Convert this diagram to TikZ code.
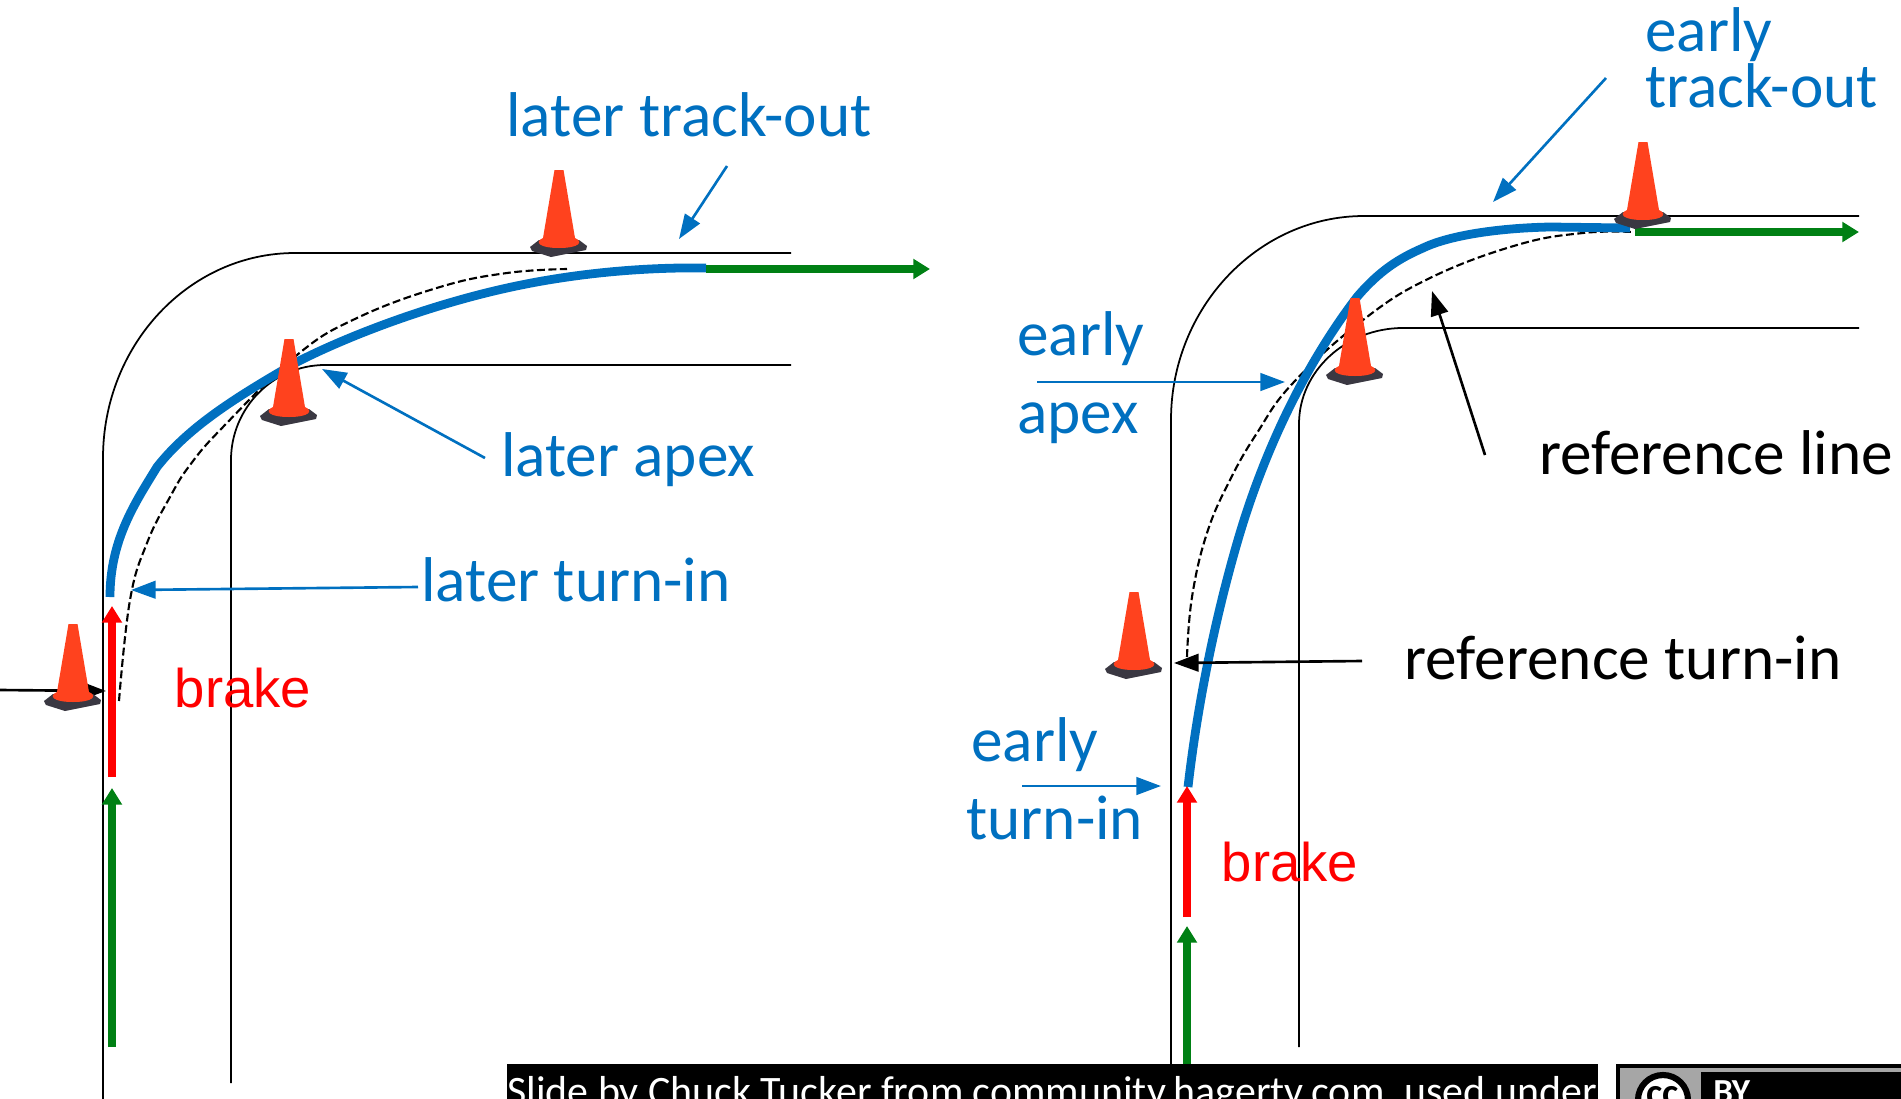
\documentclass[tikz,border=0pt]{standalone}
\usepackage{fontspec}
\setmainfont{Carlito}
\newfontfamily\brakefont{Liberation Sans}
\usetikzlibrary{arrows.meta}
\definecolor{lineblue}{RGB}{0,112,192}
\definecolor{gogreen}{RGB}{0,128,20}
\definecolor{coneorange}{RGB}{255,66,30}
\definecolor{conebase}{RGB}{58,56,66}
\tikzset{
  road/.style={line width=1pt},
  refline/.style={line width=1.2pt,dash pattern=on 4.5pt off 2pt},
  racing/.style={lineblue,line width=5pt},
  pedal/.style={line width=4.3pt,-{Triangle[length=9.5pt,width=11pt]}},
  pointer/.style={line width=1.5pt,-{Triangle[length=14pt,width=10pt]}},
  label/.style={font=\fontsize{36}{40}\selectfont,lineblue,inner sep=0pt},
  blacklabel/.style={label,text=black},
  brakelabel/.style={font=\fontsize{31}{34}\selectfont\brakefont,red,inner sep=0pt}
}
\begin{document}
\begin{tikzpicture}[x=0.02cm,y=-0.02cm]
    \useasboundingbox (0,0) rectangle (1901,1099);
    \clip (0,0) rectangle (1901,1099);
    % track edges
    \draw[road] (103,1099) -- (103,458) .. controls (103,345) and (189,253) .. (295,253) -- (791,253);
    \draw[road] (231,1083) -- (231,460) .. controls (231,408) and (273,365) .. (325,365) -- (791,365);
    \draw[road] (1171,1064) -- (1171,420) .. controls (1171,308) and (1258,216) .. (1364,216) -- (1859,216);
    \draw[road] (1299,1047) -- (1299,424) .. controls (1299,371) and (1346,328) .. (1403,328) -- (1859,328);
    % reference lines
    \draw[refline] plot[smooth,tension=0.7] coordinates {(119,701) (130,600) (147,543) (170,497) (190,465) (223,427) (297,355) (357,318) (440,287) (507,273) (567,269)};
    \draw[refline] plot[smooth,tension=0.7] coordinates {(1187,657) (1192,597) (1207,533) (1230,480) (1257,433) (1293,383) (1363,320) (1430,278) (1517,245) (1583,233) (1633,232)};
    % racing lines
    \draw[racing] (110,597) .. controls (110,540) and (135,503) .. (157,467) .. controls (190,425) and (240,395) .. (297,362) .. controls (350,335) and (430,305) .. (507,288) .. controls (570,274) and (640,267) .. (706,268);
    \draw[racing] (1188,787) .. controls (1198,700) and (1217,610) .. (1240,533) .. controls (1265,450) and (1305,365) .. (1357,297) .. controls (1380,270) and (1400,258) .. (1423,248) .. controls (1450,235) and (1500,228) .. (1550,227) -- (1630,228);
    % brake and throttle
    \coordinate (brakeA) at (112,777);
    \coordinate (brakeAtip) at (112,606);
    \coordinate (brakeB) at (1187,917);
    \coordinate (brakeBtip) at (1187,786);
    \draw[pedal,red] (brakeA) -- (brakeAtip);
    \draw[pedal,red] (brakeB) -- (brakeBtip);
    \foreach \a/\b/\c/\d in {112/1047/112/788,1187/1064/1187/926,706/269/930/269,1635/232/1859/232} {
      \coordinate (gostart) at (\a,\b);
      \coordinate (goend) at (\c,\d);
      \draw[pedal,gogreen] (gostart) -- (goend);
    }
    % pointer under the first cone
    \coordinate (refA) at (0,690);
    \coordinate (refAtip) at (106,691);
    \draw[pointer] (refA) -- (refAtip);
    % cones
    \foreach \x/\y in {73/624,289/339,559/170,1134/592,1355/298,1643/142} {
      \begin{scope}[shift={(\x,\y)}]
        \fill[conebase] (-29,77) -- (-20,70) -- (20,70) -- (28,76) -- (27,80) -- (-8,87) -- (-27,81) -- cycle;
        \fill[coneorange] (-4.5,0) -- (4.5,0) -- (16,68) .. controls (25,72) and (20,78) .. (0,78) .. controls (-20,78) and (-25,72) .. (-16,68) -- cycle;
      \end{scope}
    }
    % labels
    \node[label] (latetrack) at (689,115) {later track-out};
    \node[label] (lateapex) at (628,460) {later apex};
    \node[label] (lateturn) at (576,580) {later turn-in};
    \node[brakelabel] (brakeleft) at (243,688) {brake};
    \node[brakelabel] (brakeright) at (1290,862) {brake};
    \node[label,anchor=west,align=left,font=\fontsize{36}{29}\selectfont] (earlytrack) at (1645,58) {early\\track-out};
    \node[label,anchor=west] (earlyapexA) at (1017,339) {early};
    \node[label,anchor=west] (earlyapexB) at (1017,423) {apex};
    \node[label,anchor=west] (earlyturnA) at (971,745) {early};
    \node[label,anchor=west] (earlyturnB) at (966,818) {turn-in};
    \node[blacklabel] (refline) at (1716,453) {reference line};
    \node[blacklabel] (refturn) at (1623,658) {reference turn-in};
    % pointers
    \foreach \a/\b/\c/\d in {727/166/679/239,485/458/322/369,418/587/131/590,1606/78/1493/202,1037/382/1285/382,1022/786/1161/786} {
      \coordinate (ptrstart) at (\a,\b);
      \coordinate (ptrend) at (\c,\d);
      \draw[pointer,lineblue] (ptrstart) -- (ptrend);
    }
    \foreach \a/\b/\c/\d in {1485/455/1432/291,1362/661/1174/663} {
      \coordinate (ptrstart) at (\a,\b);
      \coordinate (ptrend) at (\c,\d);
      \draw[pointer] (ptrstart) -- (ptrend);
    }
    % credit strip
    \fill[black] (507,1064) rectangle (1598,1099);
    \node[anchor=base west,white,inner sep=0pt,font=\fontsize{23.85}{26}\selectfont] (credit) at (507,1105) {Slide by Chuck Tucker from community.hagerty.com, used under};
    \fill[black] (1616,1064) rectangle (1901,1099);
    \fill[black!35] (1620,1068) rectangle (1901,1072);
    \fill[black!35] (1620,1072) rectangle (1701,1099);
    \node[circle,draw=black,line width=3.5pt,fill=white,minimum size=1.0cm,inner sep=0pt] (ccbadge) at (1663,1100) {};
    \node[font=\fontsize{22}{24}\bfseries\selectfont,inner sep=0pt,anchor=base] (cctext) at (1663,1105) {cc};
    \node[anchor=base west,white,inner sep=0pt,font=\fontsize{20}{22}\bfseries\selectfont] (bytext) at (1713,1103) {BY};
\end{tikzpicture}
\end{document}
